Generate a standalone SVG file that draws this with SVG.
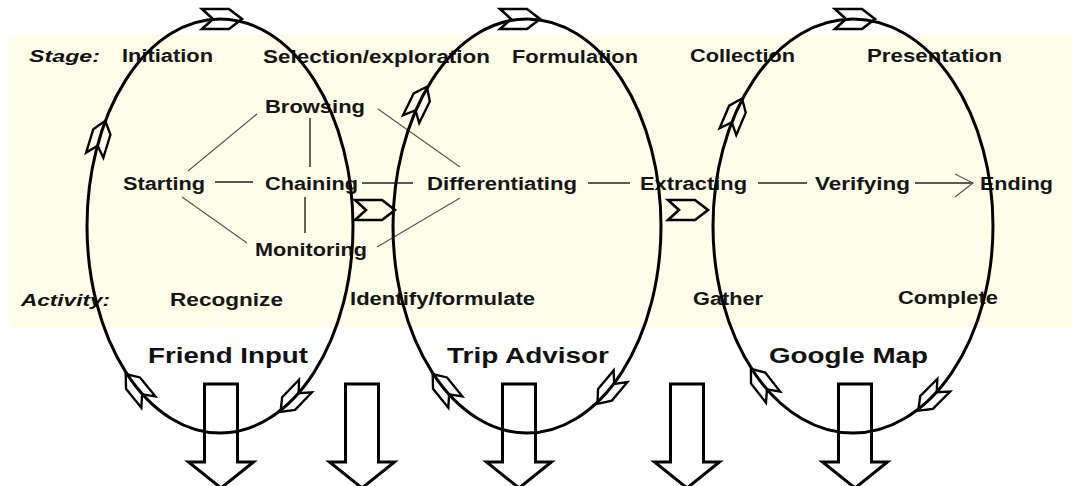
<svg xmlns="http://www.w3.org/2000/svg" width="1072" height="486" viewBox="0 0 1072 486">
  <style>
    .lbl{font-family:"Liberation Sans",Arial,sans-serif;font-weight:bold;font-size:18px;fill:#151515}
    .big{font-family:"Liberation Sans",Arial,sans-serif;font-weight:bold;font-size:22px;fill:#111}
    .hdr{font-family:"Liberation Sans",Arial,sans-serif;font-weight:900;font-style:italic;font-size:17px;fill:#111}
    .ell{fill:none;stroke:#000;stroke-width:3}
    .blk{fill:#fff;stroke:#000;stroke-width:3;stroke-linejoin:miter}
    .chv{fill:none;stroke:#000;stroke-width:2.6;stroke-linejoin:miter}
    .ln{stroke:#222;stroke-width:1.4;fill:none}
    .dg{stroke:#555;stroke-width:1.1;fill:none}
  </style>
  <defs>
    <path id="chev" d="M-20,-10 L7,-10 L20,0 L7,10 L-20,10 L-9,0 Z"/>
    <path id="down" d="M-16.5,0 L16.5,0 L16.5,78 L32.5,78 L0,104 L-32.5,78 L-16.5,78 Z"/>
  </defs>
  <rect x="0" y="0" width="1072" height="486" fill="#fff"/>
  <rect id="band" x="8" y="35" width="1064" height="293" fill="#fdfde8"/>

  <g id="labels">
    <text class="hdr" x="29" y="62" textLength="71" lengthAdjust="spacingAndGlyphs">Stage:</text>
    <text class="hdr" x="21" y="306" textLength="89" lengthAdjust="spacingAndGlyphs">Activity:</text>
  </g>
  <g id="stages">
    <text class="lbl" x="122" y="62" textLength="91" lengthAdjust="spacingAndGlyphs">Initiation</text>
    <text class="lbl" x="263" y="63" textLength="227" lengthAdjust="spacingAndGlyphs">Selection/exploration</text>
    <text class="lbl" x="512" y="63" textLength="126" lengthAdjust="spacingAndGlyphs">Formulation</text>
    <text class="lbl" x="690" y="62" textLength="105" lengthAdjust="spacingAndGlyphs">Collection</text>
    <text class="lbl" x="867" y="62" textLength="135" lengthAdjust="spacingAndGlyphs">Presentation</text>
  </g>
  <g id="activities">
    <text class="lbl" x="170" y="306" textLength="113" lengthAdjust="spacingAndGlyphs">Recognize</text>
    <text class="lbl" x="350" y="305" textLength="185" lengthAdjust="spacingAndGlyphs">Identify/formulate</text>
    <text class="lbl" x="693" y="305" textLength="70" lengthAdjust="spacingAndGlyphs">Gather</text>
    <text class="lbl" x="898" y="304" textLength="100" lengthAdjust="spacingAndGlyphs">Complete</text>
  </g>

  <g id="connectors">
    <line class="dg" x1="188" y1="171" x2="257" y2="114"/>
    <line class="dg" x1="182" y1="197" x2="247" y2="243"/>
    <line class="ln" x1="215" y1="182" x2="253" y2="182"/>
    <line class="ln" x1="310" y1="118" x2="310" y2="167"/>
    <line class="ln" x1="305" y1="197" x2="305" y2="233"/>
    <line class="ln" x1="362" y1="183" x2="413" y2="183"/>
    <line class="dg" x1="378" y1="109" x2="460" y2="167"/>
    <line class="dg" x1="377" y1="247" x2="460" y2="198"/>
    <line class="ln" x1="588" y1="183" x2="630" y2="183"/>
    <line class="ln" x1="758" y1="183" x2="807" y2="183"/>
    <line class="ln" x1="915" y1="183" x2="973" y2="183"/>
    <polyline class="dg" points="955,174 973,183 955,197"/>
  </g>

  <g id="n-browsing"><text class="lbl" x="265" y="113" textLength="100" lengthAdjust="spacingAndGlyphs">Browsing</text></g>
  <g id="n-starting"><text class="lbl" x="123" y="190" textLength="82" lengthAdjust="spacingAndGlyphs">Starting</text></g>
  <g id="n-chaining"><text class="lbl" x="265" y="190" textLength="93" lengthAdjust="spacingAndGlyphs">Chaining</text></g>
  <g id="n-monitoring"><text class="lbl" x="255" y="256" textLength="112" lengthAdjust="spacingAndGlyphs">Monitoring</text></g>
  <g id="n-differentiating"><text class="lbl" x="427" y="190" textLength="150" lengthAdjust="spacingAndGlyphs">Differentiating</text></g>
  <g id="n-extracting"><text class="lbl" x="640" y="190" textLength="107" lengthAdjust="spacingAndGlyphs">Extracting</text></g>
  <g id="n-verifying"><text class="lbl" x="815" y="190" textLength="95" lengthAdjust="spacingAndGlyphs">Verifying</text></g>
  <g id="n-ending"><text class="lbl" x="980" y="190" textLength="73" lengthAdjust="spacingAndGlyphs">Ending</text></g>

  <g id="down-arrows">
    <use href="#down" class="blk" x="221" y="384"/>
    <use href="#down" class="blk" x="362" y="384"/>
    <use href="#down" class="blk" x="519" y="384"/>
    <use href="#down" class="blk" x="687" y="384"/>
    <use href="#down" class="blk" x="855" y="384"/>
  </g>

  <g id="cycle-friend-input">
    <ellipse class="ell" cx="220" cy="226" rx="133" ry="207"/>
    <use href="#chev" class="chv" transform="translate(222,19)"/>
    <use href="#chev" class="chv" transform="translate(100,138) rotate(-73) scale(0.9)"/>
    <use href="#chev" class="chv" transform="translate(137,388) rotate(-129) scale(0.9)"/>
    <use href="#chev" class="chv" transform="translate(293,399) rotate(134) scale(0.9)"/>
    <text class="big" x="148" y="363" textLength="160" lengthAdjust="spacingAndGlyphs">Friend Input</text>
  </g>
  <g id="cycle-trip-advisor">
    <ellipse class="ell" cx="527" cy="226" rx="134" ry="207"/>
    <use href="#chev" class="chv" transform="translate(520,19)"/>
    <use href="#chev" class="chv" transform="translate(419,103) rotate(-64) scale(0.9)"/>
    <use href="#chev" class="chv" transform="translate(444,388) rotate(-129) scale(0.9)"/>
    <use href="#chev" class="chv" transform="translate(609,390) rotate(130) scale(0.9)"/>
    <text class="big" x="447" y="363" textLength="162" lengthAdjust="spacingAndGlyphs">Trip Advisor</text>
  </g>
  <g id="cycle-google-map">
    <ellipse class="ell" cx="853" cy="226" rx="140" ry="207"/>
    <use href="#chev" class="chv" transform="translate(855,19)"/>
    <use href="#chev" class="chv" transform="translate(735,115) rotate(-67) scale(0.9)"/>
    <use href="#chev" class="chv" transform="translate(762,383) rotate(-128) scale(0.9)"/>
    <use href="#chev" class="chv" transform="translate(931,398) rotate(135) scale(0.9)"/>
    <text class="big" x="769" y="363" textLength="159" lengthAdjust="spacingAndGlyphs">Google Map</text>
  </g>
  <g id="transitions">
    <use href="#chev" class="chv" transform="translate(375,210)"/>
    <use href="#chev" class="chv" transform="translate(688,210)"/>
  </g>
</svg>
